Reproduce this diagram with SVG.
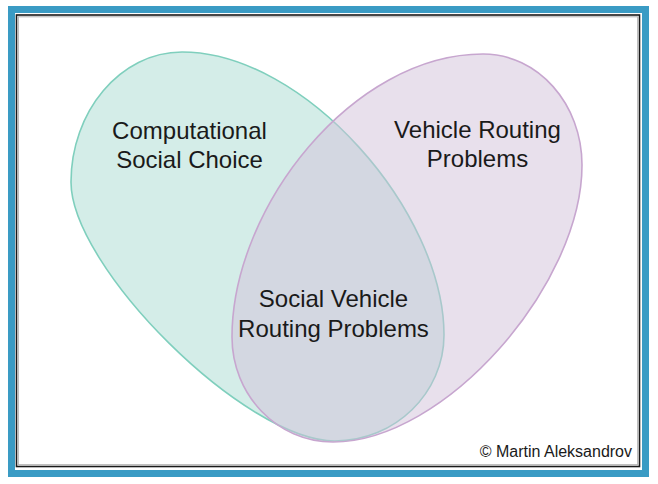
<svg xmlns="http://www.w3.org/2000/svg" width="658" height="484" viewBox="0 0 658 484">
<style>
.lbl{font-family:"Liberation Sans",Arial,sans-serif;font-size:24px;fill:#1a1a1a;text-anchor:middle}
.copy{font-family:"Liberation Sans",Arial,sans-serif;font-size:16px;fill:#1a1a1a;text-anchor:end}
</style>
<rect x="0" y="0" width="658" height="484" fill="#ffffff"/>
<rect x="11.5" y="9.5" width="634" height="464" fill="none" stroke="#3a9bc4" stroke-width="7"/>
<rect x="16.5" y="15" width="623" height="451.5" fill="none" stroke="#1a1a1a" stroke-width="1.6"/>
<rect x="18.3" y="16.8" width="619.4" height="447.9" fill="none" stroke="#b0b0b0" stroke-width="1"/>
<g id="csc">
<path d="M182,52 C120,52 71,112 71,182 C71,267 245,441 335,441 C395,441 444,393 444,335 C444,212 305,52 182,52 Z" fill="#d4ede8" stroke="#7fcfbd" stroke-width="1.6"/>
</g>
<g id="vrp">
<path d="M483,54 C538,54 582,104 582,165 C582,285 445,442 333,442 C277,442 232,395 232,337 C232,207 353,54 483,54 Z" fill="rgb(209,193,217)" fill-opacity="0.5" stroke="#c7a6cf" stroke-width="1.6"/>
</g>
<g id="labels">
<text class="lbl" x="189.5" y="139">Computational</text>
<text class="lbl" x="189.5" y="168">Social Choice</text>
<text class="lbl" x="477.5" y="138">Vehicle Routing</text>
<text class="lbl" x="477.5" y="167">Problems</text>
<text class="lbl" x="333.5" y="307">Social Vehicle</text>
<text class="lbl" x="333.5" y="337">Routing Problems</text>
</g>
<text class="copy" x="632" y="457">© Martin Aleksandrov</text>
</svg>
